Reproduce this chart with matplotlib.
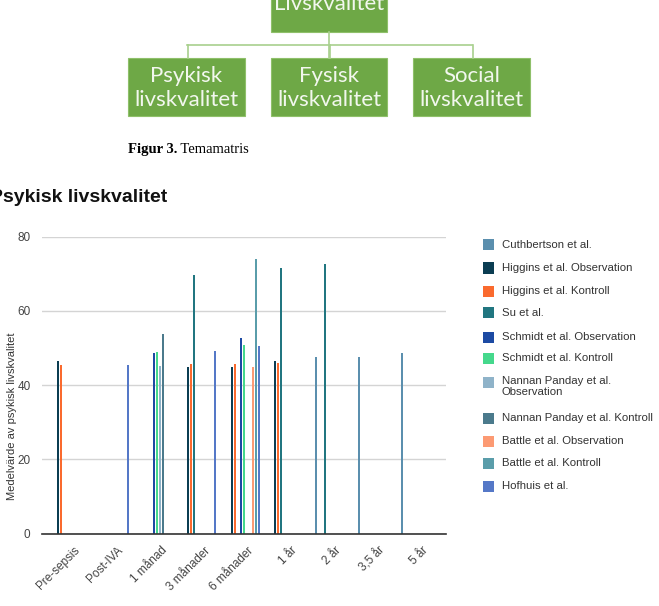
import numpy as np
import matplotlib
matplotlib.use("Agg")
import matplotlib.pyplot as plt
from matplotlib import patches
from matplotlib.lines import Line2D
from matplotlib.transforms import ScaledTranslation

nan = np.nan

# diagram texts
top_label = "Livskvalitet"
sub_labels = ["Psykisk\nlivskvalitet", "Fysisk\nlivskvalitet", "Social\nlivskvalitet"]
caption_bold = "Figur 3."
caption_text = " Temamatris"
title = "Psykisk livskvalitet"
ylabel = "Medelvärde av psykisk livskvalitet"

# chart data
categories = ["Pre-sepsis", "Post-IVA", "1 månad", "3 månader", "6 månader",
              "1 år", "2 år", "3,5 år", "5 år"]
series_names = [
    "Cuthbertson et al.",
    "Higgins et al. Observation",
    "Higgins et al. Kontroll",
    "Su et al.",
    "Schmidt et al. Observation",
    "Schmidt et al. Kontroll",
    "Nannan Panday et al.\nObservation",
    "Nannan Panday et al. Kontroll",
    "Battle et al. Observation",
    "Battle et al. Kontroll",
    "Hofhuis et al.",
]
cuthbertson = [nan, nan, nan, nan, nan, nan, 47.6, 47.6, 48.6]
higgins_obs = [46.5, nan, nan, 45.0, 45.0, 46.5, nan, nan, nan]
higgins_kon = [45.5, nan, nan, 45.7, 45.7, 46.1, nan, nan, nan]
su = [nan, nan, nan, 69.8, nan, 71.5, 72.6, nan, nan]
schmidt_obs = [nan, nan, 48.6, nan, 52.6, nan, nan, nan, nan]
schmidt_kon = [nan, nan, 49.0, nan, 50.8, nan, nan, nan, nan]
nannan_obs = [nan, nan, 45.2, nan, nan, nan, nan, nan, nan]
nannan_kon = [nan, nan, 53.9, nan, nan, nan, nan, nan, nan]
battle_obs = [nan, nan, nan, nan, 44.8, nan, nan, nan, nan]
battle_kon = [nan, nan, nan, nan, 73.9, nan, nan, nan, nan]
hofhuis = [nan, 45.5, nan, 49.1, 50.6, nan, nan, nan, nan]
series_values = [cuthbertson, higgins_obs, higgins_kon, su, schmidt_obs, schmidt_kon,
                 nannan_obs, nannan_kon, battle_obs, battle_kon, hofhuis]
colors = ["#5b8fae", "#0b3d52", "#fa6a2e", "#217680", "#1c4aa3", "#45d88c",
          "#8fb3c9", "#4b7a8c", "#fc9a73", "#5a9daa", "#5578c7"]
yticks = [0, 20, 40, 60, 80]

W, H = 659, 606
fig = plt.figure(figsize=(W / 100, H / 100), dpi=100)
plt.rcParams["font.family"] = ["Liberation Sans", "DejaVu Sans"]


def fx(px):
    return px / W


def fy(py):
    return 1 - py / H


# --- diagram on top ---
green = "#6ea846"
line_green = "#a8d08d"
box_font = ["Lato", "DejaVu Sans"]


def box(x0, y0, x1, y1):
    fig.patches.append(patches.Rectangle((fx(x0), fy(y1)), fx(x1) - fx(x0), fy(y0) - fy(y1),
                                         transform=fig.transFigure, facecolor=green,
                                         edgecolor="#8fc06a", lw=0.8))


def hline(x0, x1, y):
    fig.lines.append(Line2D([fx(x0), fx(x1)], [fy(y), fy(y)], transform=fig.transFigure,
                            color=line_green, lw=1.2))


def vline(x, y0, y1):
    fig.lines.append(Line2D([fx(x), fx(x)], [fy(y0), fy(y1)], transform=fig.transFigure,
                            color=line_green, lw=1.2))


box(271, -20, 387, 32)
fig.text(fx(329), fy(10), top_label, ha="center", va="baseline", fontsize=16,
         color="#f2f7ee", family=box_font)
vline(329, 32, 58)
hline(187, 472, 45)
for lab, (x0, x1) in zip(sub_labels, [(128, 245), (271, 387), (413, 530)]):
    box(x0, 58, x1, 116)
    vline((x0 + x1) / 2 + 1, 45, 58)
    fig.text(fx((x0 + x1) / 2), fy(88), lab, ha="center", va="center", fontsize=16,
             color="#f2f7ee", family=box_font, linespacing=1.2)

renderer = fig.canvas.get_renderer()
t1 = fig.text(fx(128), fy(153), caption_bold, ha="left", va="baseline", fontsize=10.5,
              fontweight="bold", family=["Liberation Serif"])
bb = t1.get_window_extent(renderer)
fig.text(bb.x1 / W, fy(153), caption_text, ha="left", va="baseline", fontsize=10.5,
         family=["Liberation Serif"])

fig.text(fx(-10), fy(202), title, ha="left", va="baseline", fontsize=14,
         fontweight="bold", color="#111111")

# --- bar chart ---
ax = fig.add_axes([fx(41.7), fy(533.7), fx(445.7) - fx(41.7), fy(236.7) - fy(533.7)])
x = np.arange(len(categories))
step = 0.069
bw = 0.045
for i, (vals, col) in enumerate(zip(series_values, colors)):
    vals = np.array(vals, dtype=float)
    ok = ~np.isnan(vals)
    ax.bar(x[ok] + (i - 5) * step, vals[ok], width=bw, color=col, zorder=3)

ax.set_xlim(-0.65, len(categories) - 1 + 0.65)
ax.set_ylim(0, 80)
ax.set_yticks(yticks)
ax.yaxis.grid(True, color="#d4d4d4", lw=1, zorder=0)
for s in ["top", "right", "left"]:
    ax.spines[s].set_visible(False)
ax.spines["bottom"].set_color("#333333")
ax.spines["bottom"].set_linewidth(1.2)
ax.spines["bottom"].set_zorder(4)
ax.tick_params(axis="both", length=0, labelsize=8.5, colors="#444444")
ax.tick_params(axis="y", pad=8)
ax.set_xticks(x)
ax.set_xticklabels(categories, rotation=45, ha="right", va="top", rotation_mode="anchor")
off = ScaledTranslation(4 / 100, -6 / 100, fig.dpi_scale_trans)
for lab in ax.get_xticklabels():
    lab.set_transform(lab.get_transform() + off)
fig.text(fx(12), fy(416), ylabel, rotation=90, ha="center", va="center", fontsize=8,
         color="#333333")

# --- legend ---
legend_y = [245, 268, 291, 313, 337, 358, 382, 418, 441, 463, 486]
for name, col, ly in zip(series_names, colors, legend_y):
    fig.patches.append(patches.Rectangle((fx(483), fy(ly + 5.5)), fx(11), 11 / H,
                                         transform=fig.transFigure, facecolor=col,
                                         edgecolor="none"))
    fig.text(fx(502), fy(ly), name, ha="left", va="top" if "\n" in name else "center",
             fontsize=8.2, color="#333333", linespacing=1.2,
             transform=fig.transFigure + ScaledTranslation(0, 6.5 / 100, fig.dpi_scale_trans)
             if "\n" in name else fig.transFigure)

fig.savefig("out.png", dpi=100, facecolor="white")
